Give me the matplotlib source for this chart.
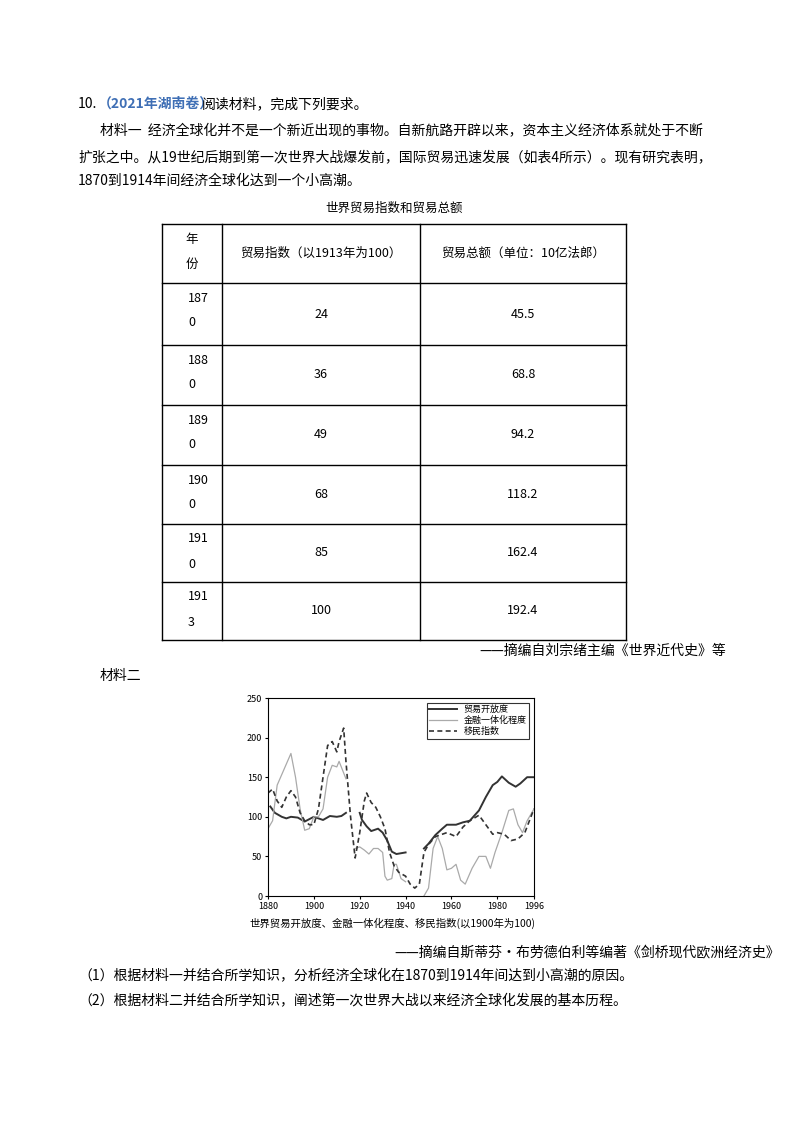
import matplotlib
matplotlib.use("Agg")
import matplotlib.pyplot as plt

plt.rcParams['font.family'] = ['Noto Sans CJK SC', 'DejaVu Sans']

table_years = ["1870", "1880", "1890", "1900", "1910", "1913"]
trade_index = ["24", "36", "49", "68", "85", "100"]
trade_total = ["45.5", "68.8", "94.2", "118.2", "162.4", "192.4"]

trade_x = [[1881,1883,1886,1888,1890,1893,1896,1898,1900,1902,1904,1907,1910,1912,1914],
           [1920,1921,1923,1925,1928,1930,1932,1934,1936,1940],
           [1948,1950,1953,1956,1958,1962,1965,1968,1972,1975,1978,1980,1982,1985,1988,1990,1993,1996]]
trade_y = [[113,105,100,98,100,99,94,97,100,98,96,101,100,101,105],
           [105,96,88,82,85,80,70,56,53,55],
           [60,66,77,85,90,90,93,95,108,125,140,144,151,143,138,142,150,150]]
fin_x = [[1880,1882,1884,1887,1890,1892,1894,1896,1898,1900,1902,1904,1906,1908,1910,1911,1914],
         [1918,1920,1922,1924,1926,1928,1930,1931,1932,1934,1935,1936,1938,1940],
         [1948,1950,1952,1954,1956,1958,1960,1962,1964,1966,1969,1972,1975,1977,1979,1982,1985,1987,1989,1991,1993,1996]]
fin_y = [[85,95,140,160,180,150,110,83,85,100,100,110,150,165,163,170,148],
         [60,62,58,53,60,60,55,25,20,22,40,40,22,18],
         [0,10,60,75,60,33,35,40,20,15,35,50,50,35,55,80,108,110,90,80,95,110]]
mig_x = [1880,1882,1884,1886,1888,1890,1892,1894,1896,1898,1900,1902,1904,1906,1908,1910,1911,1913,1914,1916,1918,1920,1922,1923,1925,1927,1929,1931,1933,1935,1937,1940,1942,1944,1946,1948,1950,1953,1956,1958,1962,1965,1968,1972,1975,1978,1980,1983,1986,1989,1992,1996]
mig_y = [130,135,120,112,125,133,125,105,95,90,90,110,150,190,195,182,195,212,170,100,48,80,120,130,118,112,100,85,55,38,30,25,15,10,15,55,65,75,78,80,75,87,95,102,90,78,80,78,70,72,80,110]

W, H = 800, 1132
fig = plt.figure(figsize=(8, 11.32), dpi=100)

def T(x, y, s, size=10, **kw):
    fig.text(x / W, 1 - y / H, s, fontsize=size, va='center', **kw)

T(78, 104, "10.", color='black')
T(98, 104, "（2021年湖南卷）", color='#3f6fb5', weight='bold')
T(202, 104, "阅读材料，完成下列要求。")
T(100, 131, "材料一  经济全球化并不是一个新近出现的事物。自新航路开辟以来，资本主义经济体系就处于不断")
T(78, 157, "扩张之中。从19世纪后期到第一次世界大战爆发前，国际贸易迅速发展（如表4所示）。现有研究表明，")
T(78, 181, "1870到1914年间经济全球化达到一个小高潮。")
T(394, 208, "世界贸易指数和贸易总额", ha='center', size=9)

# table
tax = fig.add_axes([0, 0, 1, 1])
tax.set_xlim(0, W); tax.set_ylim(H, 0); tax.axis('off')
cols = [162, 222, 420, 626]
rows = [224, 283, 345, 405, 465, 524, 582, 640]
for x in cols:
    tax.plot([x, x], [rows[0], rows[-1]], color='black', lw=1)
for y in rows:
    tax.plot([cols[0], cols[-1]], [y, y], color='black', lw=1)
tax.text(192, 240, "年", ha='center', va='center', fontsize=9)
tax.text(192, 264, "份", ha='center', va='center', fontsize=9)
tax.text(321, 253, "贸易指数（以1913年为100）", ha='center', va='center', fontsize=9)
tax.text(523, 253, "贸易总额（单位：10亿法郎）", ha='center', va='center', fontsize=9)
for i, yr in enumerate(table_years):
    y0, y1 = rows[i + 1], rows[i + 2]
    tax.text(188, y0 + 15, yr[:3], ha='left', va='center', fontsize=9)
    tax.text(188, y0 + 40, yr[3], ha='left', va='center', fontsize=9)
    tax.text(321, (y0 + y1) / 2, trade_index[i], ha='center', va='center', fontsize=9)
    tax.text(523, (y0 + y1) / 2, trade_total[i], ha='center', va='center', fontsize=9)

T(726, 651, "——摘编自刘宗绪主编《世界近代史》等", ha='right')
T(100, 676, "材料二")
T(780, 952, "——摘编自斯蒂芬·布劳德伯利等编著《剑桥现代欧洲经济史》", ha='right')
T(78, 976, "（1）根据材料一并结合所学知识，分析经济全球化在1870到1914年间达到小高潮的原因。")
T(78, 1001, "（2）根据材料二并结合所学知识，阐述第一次世界大战以来经济全球化发展的基本历程。")

# chart
ax = fig.add_axes([268 / W, 1 - 896 / H, (534 - 268) / W, (896 - 698) / H])
for i, (xs, ys) in enumerate(zip(trade_x, trade_y)):
    ax.plot(xs, ys, color='#333333', lw=1.4, label='贸易开放度' if i == 0 else None)
for i, (xs, ys) in enumerate(zip(fin_x, fin_y)):
    ax.plot(xs, ys, color='#aaaaaa', lw=0.9, label='金融一体化程度' if i == 0 else None)
ax.plot(mig_x, mig_y, color='#333333', lw=1.2, ls=(0, (3, 2)), label='移民指数')
ax.set_xlim(1880, 1996); ax.set_ylim(0, 250)
ax.set_xticks([1880, 1900, 1920, 1940, 1960, 1980, 1996])
ax.set_yticks([0, 50, 100, 150, 200, 250])
ax.tick_params(labelsize=6.5, length=2, pad=2)
leg = ax.legend(loc='upper right', fontsize=6.5, frameon=True, fancybox=False,
                edgecolor='black', borderpad=0.3, labelspacing=0.2, handlelength=3)
leg.get_frame().set_linewidth(0.8)
fig.text(392 / W, 1 - 923 / H, "世界贸易开放度、金融一体化程度、移民指数(以1900年为100)",
         ha='center', va='center', fontsize=7.5)

fig.savefig("out.png", dpi=100)
